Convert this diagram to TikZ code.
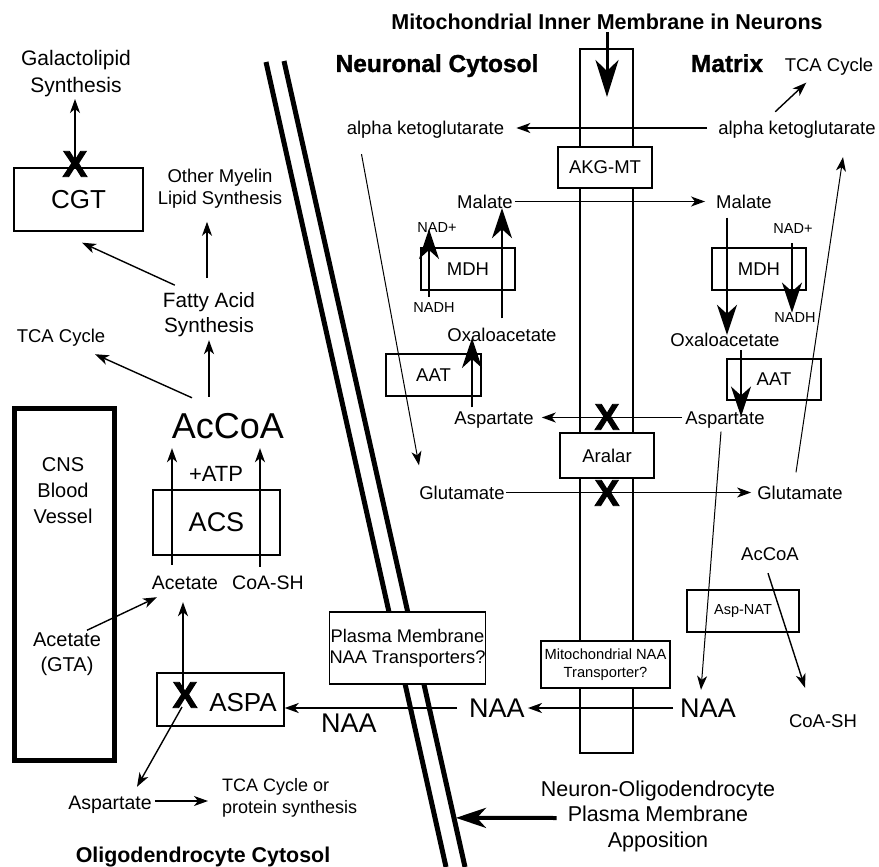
\documentclass[tikz,border=0pt]{standalone}
\usepackage{fontspec}
\setmainfont{Liberation Sans}
\newfontfamily\heavyfont{Liberation Sans}[FakeBold=1.2]
\newfontfamily\crossfont{Liberation Sans}[FakeBold=2.5]
\usetikzlibrary{arrows.meta}

\def \boxlw {1.4pt}
\def \arrlw {1.4pt}

\tikzset{
  lbl/.style={inner sep=0pt, text height=13pt, text depth=0pt, font=\fontsize{18.5}{22}\selectfont},
  multi/.style={inner sep=0pt, align=center},
  small/.style={inner sep=0pt, text height=10.5pt, text depth=0pt, font=\fontsize{14.5}{17}\selectfont},
  large/.style={inner sep=0pt, text height=19.5pt, text depth=0pt, font=\fontsize{27}{30}\selectfont},
  heading/.style={inner sep=0pt, text height=18pt, text depth=0pt, font=\fontsize{24.5}{28}\heavyfont\bfseries},
  enzbox/.style={draw, line width=\boxlw, inner sep=0pt, font=\fontsize{18.5}{22}\selectfont},
  cross/.style={inner sep=0pt, font=\fontsize{37}{37}\crossfont\bfseries},
  arr/.style={line width=\arrlw, -{Stealth[length=14pt,width=10pt,inset=4pt]}},
  thinarr/.style={line width=1pt, -{Stealth[length=14pt,width=10pt,inset=4pt]}},
  fatarr/.style={line width=\arrlw, -{Stealth[length=30pt,width=20pt,inset=9pt]}},
  memline/.style={line width=5pt}
}

\begin{document}
\begin{tikzpicture}[x=1pt,y=-1pt]
\useasboundingbox (0,0) rectangle (879,867);

% plasma membrane between the two cells
\coordinate (pmL1) at (266,62);
\coordinate (pmL2) at (446,867);
\coordinate (pmR1) at (284,61);
\coordinate (pmR2) at (465,867);
\draw[memline] (pmL1) -- (pmL2);
\draw[memline] (pmR1) -- (pmR2);
\path (pmR1) -- (pmR2) coordinate[pos=0.939] (appotip);

% mitochondrial inner membrane
\node[enzbox, minimum width=53pt, minimum height=704pt] (mito) at (606.5,401) {};
\node[heading, text height=15.5pt, font=\fontsize{21.5}{24}\selectfont\bfseries] (title) at (607,22) {Mitochondrial Inner Membrane in Neurons};
\coordinate (memtip) at (607,97);
\draw[line width=3pt, -{Stealth[length=37pt,width=23pt,inset=11pt]}, shorten <=2pt] (title.south) -- (memtip);

\node[heading] (neucyt) at (437,63) {Neuronal Cytosol};
\node[heading] (matrix) at (727,63) {Matrix};
\node[heading, text height=15.5pt, font=\fontsize{21.4}{24}\selectfont\bfseries] (oligocyt) at (203,855) {Oligodendrocyte Cytosol};

% transporters in the membranes
\node[enzbox, fill=white, minimum width=94pt, minimum height=41pt] (akgmt) at (605,167.5) {AKG-MT};
\node[enzbox, fill=white, minimum width=94pt, minimum height=45pt] (aralar) at (607,455.5) {Aralar};
\node[enzbox, fill=white, minimum width=129pt, minimum height=47pt, align=center, font=\fontsize{14.7}{18}\selectfont] (mitonaat) at (605.5,664.5) {Mitochondrial NAA\\Transporter?};
\node[enzbox, fill=white, minimum width=155pt, minimum height=72pt, align=center, font=\fontsize{18.3}{21}\selectfont] (pmnaat) at (407.5,648) {Plasma Membrane\\NAA Transporters?};

% neuron: cytosol and matrix
\node[lbl] (akgl) at (425.5,128) {alpha ketoglutarate};
\node[lbl] (akgr) at (797,128) {alpha ketoglutarate};
\node[lbl] (tcar) at (829,65) {TCA Cycle};
\node[lbl] (mall) at (485,201.5) {Malate};
\node[lbl] (malr) at (744,201.5) {Malate};
\node[small] (nadl) at (437,227) {NAD+};
\node[small] (nadhl) at (434,307) {NADH};
\node[enzbox, minimum width=94pt, minimum height=42pt] (mdhl) at (468,269) {MDH};
\node[enzbox, minimum width=94pt, minimum height=42pt] (mdhr) at (759,269) {MDH};
\node[small] (nadr) at (793,228) {NAD+};
\node[small] (nadhr) at (795,317) {NADH};
\node[lbl] (oaal) at (502,335) {Oxaloacetate};
\node[lbl] (oaar) at (725,340) {Oxaloacetate};
\node[enzbox, minimum width=95pt, minimum height=42pt] (aatl) at (433.5,375) {AAT};
\node[enzbox, minimum width=94pt, minimum height=41pt] (aatr) at (774,379.5) {AAT};
\node[lbl] (aspl) at (494,417.5) {Aspartate};
\node[lbl] (aspr) at (725,417.5) {Aspartate};
\node[lbl] (glul) at (462,492.5) {Glutamate};
\node[lbl] (glur) at (800,492.5) {Glutamate};
\node[lbl] (accoar) at (770,554) {AcCoA};
\node[enzbox, minimum width=112pt, minimum height=42pt, font=\fontsize{14.5}{17}\selectfont] (aspnat) at (743,611) {Asp-NAT};
\node[lbl] (coashr) at (823,721) {CoA-SH};
\node[large] (naal) at (497,708) {NAA};
\node[large] (naar) at (708,708) {NAA};
\node[multi, font=\fontsize{21.5}{25.5}\selectfont] (appo) at (658,816) {Neuron-Oligodendrocyte\\Plasma Membrane\\Apposition};

\draw[arr, shorten <=11pt, shorten >=12pt] (akgr.west) -- (akgl.east);
\draw[arr, shorten <=14pt, shorten >=16pt] ([xshift=-32pt]akgr.north) -- ([xshift=-11pt]tcar.south);
\draw[thinarr] ([xshift=-64pt,yshift=-19.5pt]akgl.south) -- ([xshift=-43pt,yshift=20.5pt]glul.north);
\draw[arr, shorten <=2pt, shorten >=11pt] (mall.east) -- (malr.west);
\draw[fatarr, shorten <=10pt] (oaal.north) -- (oaal.north |- mall.south);
\draw[fatarr, shorten <=5pt] ([xshift=-5pt]nadhl.north) -- ([xshift=-8pt,yshift=-2pt]nadl.center);
\draw[fatarr] ([xshift=-22pt,yshift=3.5pt]aspl.north) -- ([xshift=-30pt,yshift=-3pt]oaal.center);
\draw[arr, shorten <=3pt, shorten >=8pt] (aspr.west) -- (aspl.east);
\draw[arr, shorten <=1pt, shorten >=6pt] (glul.east) -- (glur.west);
\draw[fatarr, shorten <=9.5pt] ([xshift=-17pt]malr.south) -- ([xshift=2pt,yshift=-1.5pt]oaar.north);
\draw[fatarr, shorten <=10pt] ([xshift=-1pt]nadr.south) -- ([xshift=-3pt,yshift=-1pt]nadhr.north);
\draw[fatarr, shorten <=3.5pt] ([xshift=16pt]oaar.south) -- ([xshift=16pt,yshift=1pt]aspr.center);
\draw[thinarr] ([xshift=-4pt,yshift=13.5pt]glur.north) -- ([xshift=46pt,yshift=-22.5pt]akgr.south);
\draw[thinarr] ([xshift=-4pt,yshift=-7.5pt]aspr.south) -- ([xshift=-7pt,yshift=8.25pt]naar.north);
\draw[arr] ([xshift=-2pt,yshift=-12.5pt]accoar.south) -- ([xshift=-18pt,yshift=26.5pt]coashr.north);
\draw[arr, shorten <=7pt, shorten >=3pt] (naar.west) -- (naal.east);
\draw[line width=4pt, -{Stealth[length=30pt,width=20pt,inset=9pt]}, shorten >=2pt] ([xshift=16pt,yshift=-2pt]appo.west) -- (appotip);

\node[cross] (aspx) at (607,417) {X};
\node[cross] (glux) at (607,493) {X};

% oligodendrocyte
\node[multi, font=\fontsize{21}{27}\selectfont] (galacto) at (76,73.5) {Galactolipid\\Synthesis};
\node[enzbox, minimum width=129pt, minimum height=63pt, font=\fontsize{26}{28}\selectfont] (cgt) at (78.5,199.5) {CGT};
\node[cross] (cgtx) at (75,164) {X};
\node[multi, font=\fontsize{18.5}{22}\selectfont] (myelin) at (220,189) {Other Myelin\\Lipid Synthesis};
\node[multi, font=\fontsize{20.7}{25}\selectfont] (fatty) at (209,314.5) {Fatty Acid\\Synthesis};
\node[lbl] (tcal) at (61,336) {TCA Cycle};
\node[lbl, text height=26pt, font=\fontsize{36}{40}\selectfont] (accoa) at (228,425) {AcCoA};
\node[lbl, text height=16pt, font=\fontsize{22}{24}\selectfont] (atp) at (216,473) {+ATP};
\node[enzbox, minimum width=127pt, minimum height=65pt, font=\fontsize{27}{30}\selectfont] (acs) at (216.5,522.5) {ACS};
\node[lbl, font=\fontsize{19.5}{22}\selectfont] (acetate) at (185,583) {Acetate};
\node[lbl, font=\fontsize{19.5}{22}\selectfont] (coash) at (268,583) {CoA-SH};
\node[draw, line width=5pt, minimum width=100.5pt, minimum height=352pt, inner sep=0pt] (vessel) at (64.5,584) {};
\node[multi, font=\fontsize{20}{26}\selectfont] (cns) at (63,491) {CNS\\Blood\\Vessel};
\node[multi, font=\fontsize{20}{25}\selectfont] (acgta) at (67,654.5) {Acetate\\(GTA)};
\node[enzbox, minimum width=127pt, minimum height=53pt] (aspa) at (220.5,699.5) {};
\node[large, font=\fontsize{26}{30}\selectfont] (aspalbl) at (243,702) {ASPA};
\node[cross] (aspax) at (185,695) {X};
\node[large] (naao) at (349,723) {NAA};
\node[lbl, font=\fontsize{19.5}{22}\selectfont] (aspo) at (110,803) {Aspartate};
\node[multi, align=left, anchor=west, font=\fontsize{18}{22}\selectfont] (tcaor) at (222,798) {TCA Cycle or\\protein synthesis};

\draw[arr, shorten >=2pt] (cgtx.center) -- (cgtx.center |- galacto.south);
\draw[arr] ([xshift=12pt,yshift=7pt]fatty.north west) -- ([xshift=3.5pt,yshift=-11pt]cgt.south);
\draw[arr, shorten <=14pt, shorten >=13pt] ([xshift=-2pt]fatty.north) -- ([xshift=-2pt]fatty.north |- myelin.south);
\draw[arr] ([xshift=-36pt,yshift=14pt]accoa.north) -- ([xshift=34pt,yshift=-11.5pt]tcal.south);
\draw[arr] ([xshift=-19pt,yshift=15pt]accoa.north) -- ([yshift=-3.3pt]fatty.south);
\draw[arr] ([xshift=-13pt,yshift=11.5pt]acetate.north) -- ([xshift=-56pt,yshift=-10pt]accoa.south);
\draw[arr] ([xshift=-8pt,yshift=9.5pt]coash.north) -- ([xshift=32pt,yshift=-10pt]accoa.south);
\draw[arr] ([xshift=20pt,yshift=2.6pt]acgta.north) -- ([xshift=-28pt,yshift=-7.5pt]acetate.south);
\draw[arr, shorten <=12pt] (naal.west) -- ([yshift=-8.5pt]aspa.east);
\draw[arr] ([xshift=-2pt,yshift=-5pt]aspax.center) -- ([xshift=-2pt,yshift=-12.5pt]acetate.south);
\draw[arr] ([xshift=-3pt,yshift=-12pt]aspax.center) -- ([xshift=27pt,yshift=9.5pt]aspo.north);
\draw[arr] ([xshift=3pt,yshift=2pt]aspo.east) -- ([xshift=-14pt,yshift=-3pt]tcaor.west);
\end{tikzpicture}
\end{document}
